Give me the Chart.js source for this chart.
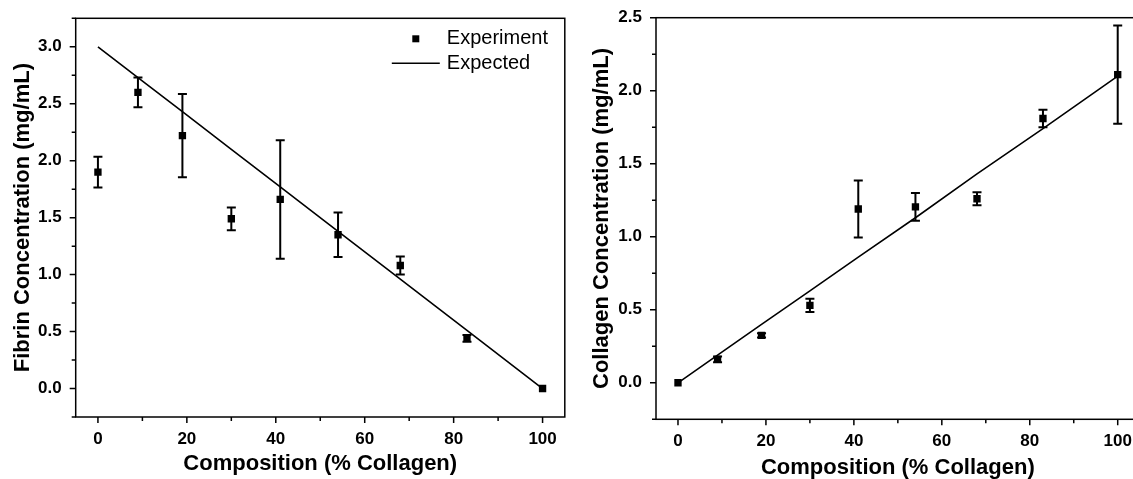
<!DOCTYPE html>
<html>
<head>
<meta charset="utf-8">
<script src="https://cdn.jsdelivr.net/npm/chart.js@4.4.1/dist/chart.umd.min.js"></script>
<style>
  html, body { margin: 0; padding: 0; background: #fff; overflow: hidden; width: 1133px; height: 479px; position: relative; }
  .panel { position: absolute; top: 0; height: 479px; overflow: hidden; }
  #leftPanel { left: 0; width: 570px; }
  #rightPanel { left: 570px; width: 563px; }
  canvas { display: block; }
</style>
</head>
<body>
<div class="panel" id="leftPanel"><canvas id="fibrinChart" width="570" height="479"></canvas></div>
<div class="panel" id="rightPanel"><canvas id="collagenChart" width="580" height="479"></canvas></div>
<script>
// --- data
const composition = [0, 9, 19, 30, 41, 54, 68, 83, 100];

const fibrinMeasured = [1.90, 2.60, 2.22, 1.49, 1.66, 1.35, 1.08, 0.44, 0.00];
const fibrinError    = [0.135, 0.13, 0.365, 0.10, 0.52, 0.195, 0.078, 0.03, 0.0];
const fibrinExpected = [3.00, 2.73, 2.43, 2.10, 1.77, 1.38, 0.96, 0.51, 0.00];

const collagenMeasured = [0.00, 0.16, 0.325, 0.53, 1.19, 1.205, 1.26, 1.81, 2.11];
const collagenError    = [0.0, 0.02, 0.015, 0.045, 0.195, 0.095, 0.045, 0.06, 0.337];
const collagenExpected = [0.00, 0.19, 0.40, 0.63, 0.86, 1.13, 1.43, 1.74, 2.10];

// --- ticks
const xMajor = [0, 20, 40, 60, 80, 100];
const xMinor = [10, 30, 50, 70, 90];
const fibrinYMajor = [0, 0.5, 1.0, 1.5, 2.0, 2.5, 3.0];
const fibrinYMinor = [-0.25, 0.25, 0.75, 1.25, 1.75, 2.25, 2.75, 3.25];
const collagenYMajor = [0, 0.5, 1.0, 1.5, 2.0, 2.5];
const collagenYMinor = [-0.25, 0.25, 0.75, 1.25, 1.75, 2.25];

const FONT = '"Liberation Sans", Arial, sans-serif';

function toPoints(xs, ys) {
    return xs.map((x, i) => ({ x: x, y: ys[i] }));
}

// box round the plot and outward tick marks (major + minor)
const framePlugin = {
    id: 'frame',
    afterDraw(chart, args, opts) {
        const { ctx, chartArea: a, scales: { x, y } } = chart;
        ctx.save();
        ctx.strokeStyle = '#000';
        ctx.lineWidth = 1.5;
        ctx.strokeRect(a.left, a.top, a.right - a.left, a.bottom - a.top);
        ctx.beginPath();
        opts.xMajor.forEach(v => {
            const px = x.getPixelForValue(v);
            ctx.moveTo(px, a.bottom); ctx.lineTo(px, a.bottom + 6);
        });
        opts.xMinor.forEach(v => {
            const px = x.getPixelForValue(v);
            ctx.moveTo(px, a.bottom); ctx.lineTo(px, a.bottom + 4);
        });
        opts.yMajor.forEach(v => {
            const py = y.getPixelForValue(v);
            ctx.moveTo(a.left, py); ctx.lineTo(a.left - 6, py);
        });
        opts.yMinor.forEach(v => {
            const py = y.getPixelForValue(v);
            ctx.moveTo(a.left, py); ctx.lineTo(a.left - 4, py);
        });
        ctx.stroke();
        ctx.restore();
    }
};

// vertical error bars with caps
const errorBarPlugin = {
    id: 'errorBars',
    afterDatasetsDraw(chart) {
        const { ctx, scales: { x, y } } = chart;
        ctx.save();
        ctx.strokeStyle = '#000';
        ctx.lineWidth = 2;
        chart.data.datasets.forEach(ds => {
            if (!ds.yErr) return;
            ds.data.forEach((p, i) => {
                const e = ds.yErr[i];
                if (!e) return;
                const px = x.getPixelForValue(p.x);
                const top = y.getPixelForValue(p.y + e);
                const bot = y.getPixelForValue(p.y - e);
                ctx.beginPath();
                ctx.moveTo(px, top); ctx.lineTo(px, bot);
                ctx.moveTo(px - 4.5, top); ctx.lineTo(px + 4.5, top);
                ctx.moveTo(px - 4.5, bot); ctx.lineTo(px + 4.5, bot);
                ctx.stroke();
            });
        });
        ctx.restore();
    }
};

// legend sitting inside the plot, top right
const insetLegendPlugin = {
    id: 'insetLegend',
    afterDraw(chart, args, opts) {
        if (!opts.show) return;
        const { ctx, chartArea: a } = chart;
        ctx.save();
        ctx.fillStyle = '#000';
        ctx.strokeStyle = '#000';
        ctx.fillRect(a.right - 152.5, a.top + 17, 7, 7);
        ctx.lineWidth = 1.5;
        ctx.beginPath();
        ctx.moveTo(a.right - 173, a.top + 45);
        ctx.lineTo(a.right - 125, a.top + 45);
        ctx.stroke();
        ctx.font = '20px ' + FONT;
        ctx.textBaseline = 'middle';
        ctx.fillText('Experiment', a.right - 118, a.top + 20);
        ctx.fillText('Expected', a.right - 118, a.top + 45);
        ctx.restore();
    }
};

function makeChart(canvasId, cfg) {
    const tickFont = { family: FONT, size: 17, weight: 'bold' };
    const titleFont = { family: FONT, size: 22, weight: 'bold', lineHeight: 1 };
    return new Chart(document.getElementById(canvasId), {
        type: 'scatter',
        data: {
            datasets: [
                {
                    label: 'Experiment',
                    data: toPoints(composition, cfg.measured),
                    yErr: cfg.errors,
                    pointStyle: 'rect',
                    pointRadius: 5.2,
                    backgroundColor: '#000',
                    borderColor: '#000',
                    borderWidth: 0
                },
                {
                    label: 'Expected',
                    type: 'line',
                    data: toPoints(composition, cfg.expected),
                    borderColor: '#000',
                    borderWidth: 1.6,
                    pointRadius: 0,
                    tension: 0,
                    fill: false
                }
            ]
        },
        options: {
            responsive: false,
            animation: false,
            events: [],
            layout: { padding: cfg.padding },
            plugins: {
                legend: { display: false },
                tooltip: { enabled: false },
                frame: { xMajor: xMajor, xMinor: xMinor, yMajor: cfg.yMajor, yMinor: cfg.yMinor },
                insetLegend: { show: cfg.legend }
            },
            scales: {
                x: {
                    type: 'linear',
                    min: -5,
                    max: 105,
                    afterBuildTicks: s => { s.ticks = xMajor.map(v => ({ value: v })); },
                    afterFit: s => {
                        s.height = cfg.xHeight;
                        s.paddingLeft = 0;
                        s.paddingRight = 0;
                    },
                    grid: { display: false, drawTicks: false },
                    border: { display: false },
                    ticks: {
                        padding: cfg.xTickPad,
                        autoSkip: false,
                        maxRotation: 0,
                        color: '#000',
                        font: tickFont,
                        callback: v => String(v)
                    },
                    title: {
                        display: true,
                        text: 'Composition (% Collagen)',
                        color: '#000',
                        font: titleFont,
                        padding: { top: 0, bottom: cfg.xTitlePad }
                    }
                },
                y: {
                    type: 'linear',
                    min: cfg.yMin,
                    max: cfg.yMax,
                    afterBuildTicks: s => { s.ticks = cfg.yMajor.map(v => ({ value: v })); },
                    afterFit: s => {
                        s.width = cfg.yWidth;
                        s.paddingTop = 0;
                        s.paddingBottom = 0;
                    },
                    grid: { display: false, drawTicks: false },
                    border: { display: false },
                    ticks: {
                        padding: 14,
                        autoSkip: false,
                        color: '#000',
                        font: tickFont,
                        callback: v => v.toFixed(1)
                    },
                    title: {
                        display: true,
                        text: cfg.yTitle,
                        color: '#000',
                        font: titleFont,
                        padding: { top: cfg.yTitlePad, bottom: 0 }
                    }
                }
            }
        },
        plugins: [errorBarPlugin, framePlugin, insetLegendPlugin]
    });
}

makeChart('fibrinChart', {
    measured: fibrinMeasured,
    errors: fibrinError,
    expected: fibrinExpected,
    yMin: -0.25,
    yMax: 3.25,
    yMajor: fibrinYMajor,
    yMinor: fibrinYMinor,
    yTitle: 'Fibrin Concentration (mg/mL)',
    padding: { top: 18.3, right: 1.7, left: 0, bottom: 0 },
    yWidth: 75.7,
    xHeight: 62,
    xTickPad: 12,
    xTitlePad: 4,
    yTitlePad: 11.5,
    legend: true
});

// this panel runs past the right edge of the page, as in the figure
makeChart('collagenChart', {
    measured: collagenMeasured,
    errors: collagenError,
    expected: collagenExpected,
    yMin: -0.25,
    yMax: 2.5,
    yMajor: collagenYMajor,
    yMinor: collagenYMinor,
    yTitle: 'Collagen Concentration (mg/mL)',
    padding: { top: 17.7, right: 10.3, left: 0, bottom: 0 },
    yWidth: 86,
    xHeight: 59.7,
    xTickPad: 12.2,
    xTitlePad: 0.5,
    yTitlePad: 20.7,
    legend: false
});
</script>
</body>
</html>
